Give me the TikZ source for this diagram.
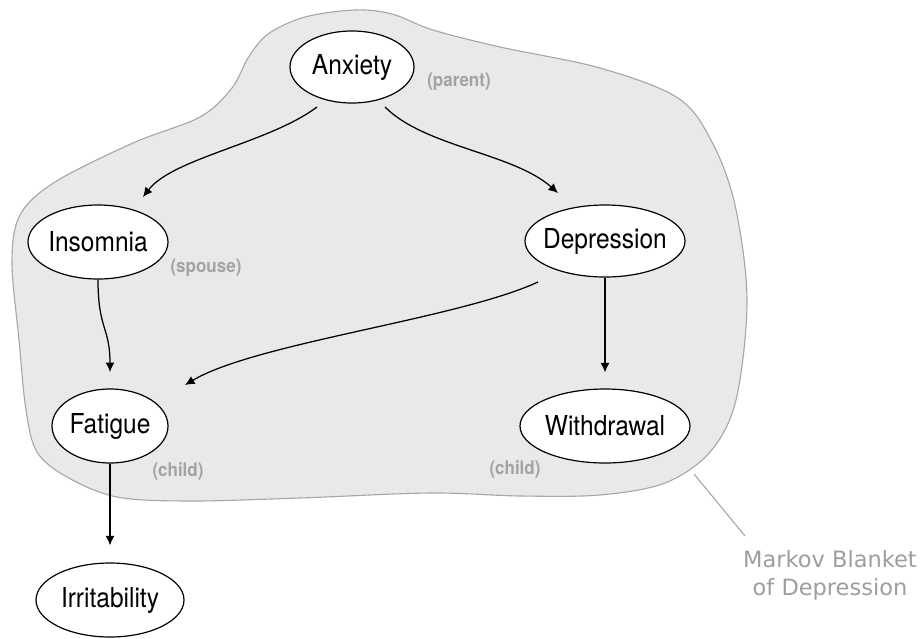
\documentclass[tikz,border=0pt]{standalone}
\usepackage{fontspec}
\newfontfamily\heros{TeX Gyre Heros}
\newfontfamily\dejavu{DejaVu Sans}
\usetikzlibrary{shapes.geometric,arrows.meta,calc}
\definecolor{blobfill}{HTML}{E9E9EB}
\definecolor{blobline}{HTML}{A6A6A6}
\definecolor{lblgray}{HTML}{A3A3A3}
\definecolor{mbgray}{HTML}{9E9E9E}
\newcommand{\vtxt}[1]{\makebox[0pt]{\scalebox{1}[1.12]{#1}}}
\newcommand{\rtxt}[1]{\scalebox{1}[1.1]{#1}}
\begin{document}
\begin{tikzpicture}[x=1pt,y=-1pt,
  var/.style={ellipse, draw=black, line width=1.2pt, fill=white, inner sep=0pt, font=\fontsize{24.5}{28}\heros},
  role/.style={font=\fontsize{17}{20}\heros\bfseries, text=lblgray, inner sep=0pt},
  arr/.style={line width=1.25pt, -{Latex[length=9.5pt,width=9pt]}},
  blob/.style={draw=blobline, fill=blobfill, line width=1.1pt},
  leader/.style={draw=blobline, line width=1.1pt}
]
\useasboundingbox (0,0) rectangle (922,638);
\fill[white] (0,0) rectangle (922,638);
\path[blob] plot[smooth cycle, tension=0.55] coordinates {
  (355,10) (392,14) (433,30) (500,47) (600,68) (678,98) (712,142) (735,205)
  (747,300) (736,400) (710,452) (665,483) (600,495) (520,496)
  (430,493) (300,498) (190,501) (117,497) (67,477) (37,452) (26,410) (19,340)
  (12,262) (20,215) (55,182) (133,143) (200,117) (232,88) (248,58)
  (268,34) (305,17)};

\node[var, minimum width=124pt, minimum height=72pt] (anx) at (352,67) {\vtxt{Anxiety}};
\node[var, minimum width=140pt, minimum height=74pt] (ins) at (98,242) {\vtxt{Insomnia}};
\node[var, minimum width=160pt, minimum height=72pt] (dep) at (605,241) {\vtxt{Depression}};
\node[var, minimum width=116pt, minimum height=74pt] (fat) at (110,426) {\vtxt{Fatigue}};
\node[var, minimum width=170pt, minimum height=74pt] (wd) at (605,426) {\vtxt{Withdrawal}};
\node[var, minimum width=148pt, minimum height=74pt] (irr) at (110,600) {\vtxt{Irritability}};

\node[role] (lpar) at (459,82) {\rtxt{(parent)}};
\node[role] (lsp) at (206,268) {\rtxt{(spouse)}};
\node[role] (lch1) at (178,471) {\rtxt{(child)}};
\node[role] (lch2) at (515,469) {\rtxt{(child)}};

\draw[arr] ($(anx)+(-35,40)$) .. controls +(-48,36) and +(30,-39) .. ($(ins)+(45,-45)$);
\draw[arr] ($(anx)+(33,40)$) .. controls +(40,40) and +(-45,-40) .. ($(dep)+(-47,-48)$);
\draw[arr] ($(dep)+(-67,41)$) .. controls +(-80,37) and +(70,-42) .. ($(fat)+(75,-41)$);
\draw[arr] (ins.south) .. controls +(0,50) and +(0,-45) .. ($(fat)+(0,-54)$);
\draw[arr] (dep.south) -- ($(wd.north)+(0,-16)$);
\draw[arr] (fat.south) -- ($(irr.north)+(0,-17)$);

\node[anchor=north, align=center, inner sep=0pt, text=mbgray, font=\fontsize{22.5}{28}\dejavu] (mb) at (830,550) {Markov Blanket\\of Depression};
\coordinate (bl) at (694,474);
\draw[leader] (bl) -- ($(mb.north west)+(2,-14)$);
\end{tikzpicture}
\end{document}
